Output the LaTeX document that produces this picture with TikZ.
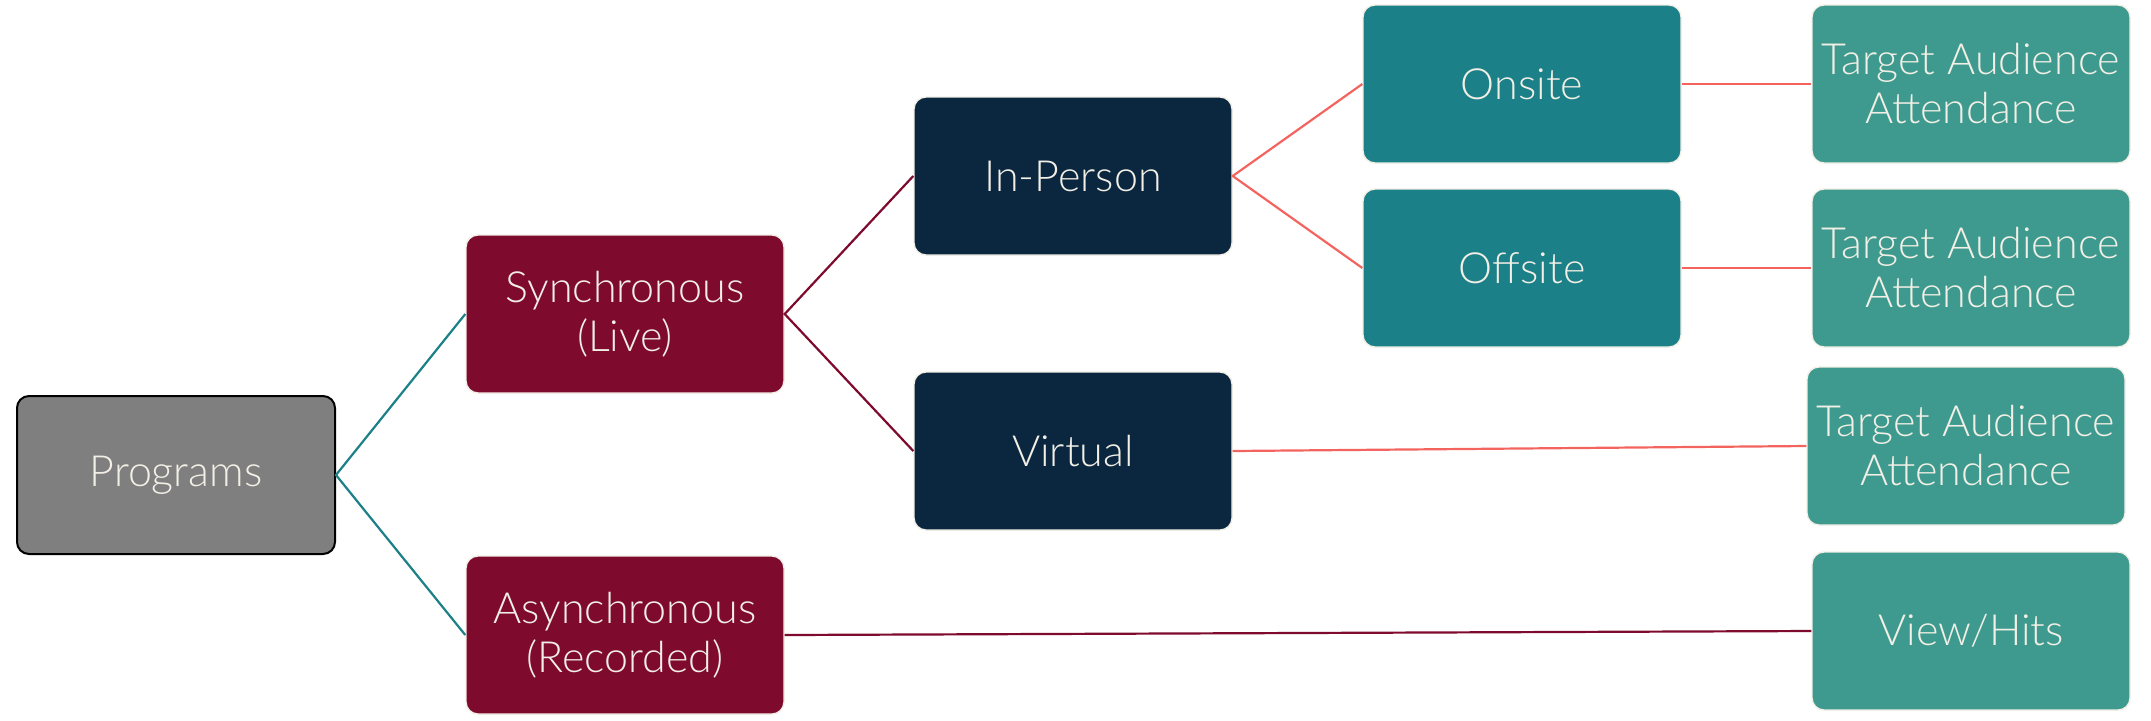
\documentclass[tikz,border=0pt]{standalone}
\usepackage{fontspec}
\setmainfont{Lato Light}
\definecolor{progfill}{HTML}{7F7F7F}
\definecolor{maroon}{HTML}{7E0A2E}
\definecolor{navy}{HTML}{0B2740}
\definecolor{teal}{HTML}{1B8087}
\definecolor{seagreen}{HTML}{3E9A8E}
\definecolor{salmon}{HTML}{F4645F}
\definecolor{linen}{HTML}{F2EFE6}
\begin{document}
\begin{tikzpicture}[x=0.5pt,y=-0.5pt,
  box/.style={rectangle, rounded corners=6pt, minimum width=159pt, minimum height=79pt,
    inner sep=0pt, align=center, text=linen, draw=linen, line width=0.7pt,
    font=\fontsize{21.5}{24.5}\selectfont},
  root/.style={box, fill=progfill, draw=black, line width=1pt},
  mode/.style={box, fill=maroon},
  place/.style={box, fill=navy},
  site/.style={box, fill=teal},
  metric/.style={box, fill=seagreen},
  link/.style={line width=1.1pt}]
\useasboundingbox (0,0) rectangle (2151,720);
% boxes
\node[root]   (prog)   at (176,475)  {Programs};
\node[mode]   (sync)   at (625,314)  {Synchronous\\(Live)};
\node[mode]   (async)  at (625,635)  {Asynchronous\\(Recorded)};
\node[place]  (inper)  at (1073,176) {In-Person};
\node[place]  (virt)   at (1073,451) {Virtual};
\node[site]   (onsite) at (1522,84)  {Onsite};
\node[site]   (offsite)at (1522,268) {Offsite};
\node[metric] (tgtA)   at (1971,84)  {Target Audience\\Attendance};
\node[metric] (tgtB)   at (1971,268) {Target Audience\\Attendance};
\node[metric] (tgtC)   at (1966,446) {Target Audience\\Attendance};
\node[metric] (hits)   at (1971,631) {View/Hits};
% connectors
\draw[link, teal] (sync.west) -- (prog.east) -- (async.west);
\draw[link, maroon] (inper.west) -- (sync.east) -- (virt.west);
\draw[link, salmon] (onsite.west) -- (inper.east) -- (offsite.west);
\draw[link, salmon] (onsite.east) -- (tgtA.west);
\draw[link, salmon] (offsite.east) -- (tgtB.west);
\draw[link, salmon] (virt.east) -- (tgtC.west);
\draw[link, maroon] (async.east) -- (hits.west);
\end{tikzpicture}
\end{document}
